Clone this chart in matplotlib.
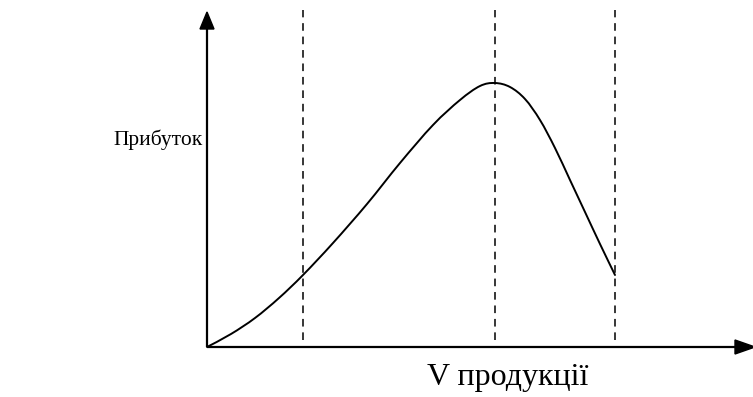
import matplotlib
matplotlib.use("Agg")
import matplotlib.pyplot as plt
from matplotlib.path import Path
from matplotlib.patches import PathPatch, Polygon
import numpy as np

# Curve points (x = volume, y = profit)
curve_x = [0, 24, 48, 72, 96, 126, 160, 193, 226, 253, 273, 288, 303, 318, 333, 348, 363, 378, 393, 408]
curve_y = [0, 13, 29, 49, 72, 104, 143, 184, 222, 247, 261, 264, 260, 248, 227, 199, 167, 135, 103, 72]
# Vertical dashed guide positions
guide_x = [96.5, 288, 408.5]
x_label = "V продукції"
y_label = "Прибуток"

fig = plt.figure(figsize=(7.53, 3.97), dpi=100)
ax = fig.add_axes([0, 0, 1, 1])
ax.set_xlim(-207, 546)
ax.set_ylim(-50, 347)
ax.axis("off")

# Smooth curve via Catmull-Rom -> cubic Bezier
pts = np.column_stack([curve_x, curve_y]).astype(float)
verts = [pts[0]]
codes = [Path.MOVETO]
n = len(pts)
for i in range(n - 1):
    p0 = pts[i - 1] if i > 0 else pts[i]
    p1 = pts[i]
    p2 = pts[i + 1]
    p3 = pts[i + 2] if i + 2 < n else pts[i + 1]
    c1 = p1 + (p2 - p0) / 6.0
    c2 = p2 - (p3 - p1) / 6.0
    verts += [c1, c2, p2]
    codes += [Path.CURVE4] * 3
ax.add_patch(PathPatch(Path(verts, codes), fill=False, lw=1.4, color="black",
                       capstyle="round", joinstyle="round"))

# Dashed guides
for gx in guide_x:
    ax.plot([gx, gx], [7, 337], color="black", lw=1.1, dashes=(5.0, 3.8))

# Axes with arrows
ax.plot([0, 0], [0, 322], color="black", lw=1.6, solid_capstyle="butt")
ax.plot([0, 532], [0, 0], color="black", lw=1.6, solid_capstyle="butt")
ax.add_patch(Polygon([[-7, 318], [7, 318], [0, 335]], closed=True, color="black"))
ax.add_patch(Polygon([[528, 7], [528, -7], [548, 0]], closed=True, color="black"))

ax.text(300.5, -31, x_label, ha="center", va="center", fontsize=23,
        family="Liberation Serif")
ax.text(-49, 207, y_label, ha="center", va="center", fontsize=15.5,
        family="Liberation Serif")

fig.savefig("out.png", dpi=100)
